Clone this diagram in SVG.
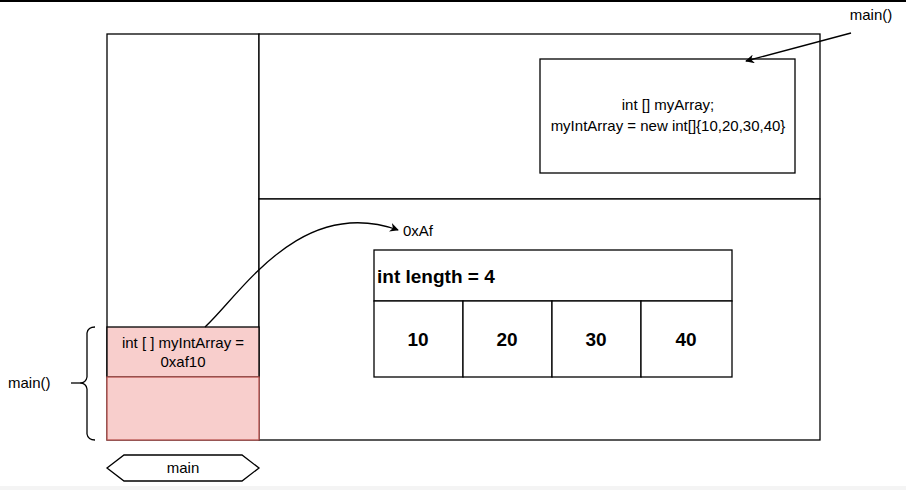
<svg xmlns="http://www.w3.org/2000/svg" width="906" height="490" viewBox="0 0 906 490">
<defs>
<style>
.box{fill:#fff;stroke:#000;stroke-width:1.3}
.t{font-family:"Liberation Sans",Arial,sans-serif;font-size:15px;fill:#000}
.b{font-family:"Liberation Sans",Arial,sans-serif;font-size:19px;font-weight:bold;fill:#000}
.line{fill:none;stroke:#000;stroke-width:1.3}
</style>
<marker id="ah" viewBox="0 0 10 10" refX="9" refY="5" markerWidth="9" markerHeight="9" orient="auto" markerUnits="userSpaceOnUse">
<path d="M0,0 L10,5 L0,10 L3,5 Z" fill="#000"/>
</marker>
</defs>
<rect x="0" y="0" width="906" height="490" fill="#fff"/>
<rect x="0" y="0" width="906" height="2" fill="#000"/>
<rect x="0" y="486" width="906" height="4" fill="#f4f4f4"/>
<g id="stack"><rect class="box" x="107" y="34" width="152" height="406"/></g>
<g id="heap-top"><rect class="box" x="259" y="34" width="561" height="165"/></g>
<g id="heap"><rect class="box" x="259" y="199" width="561" height="241"/></g>
<g id="frame-var">
<rect x="107" y="327" width="152" height="50" fill="#f8cecc" stroke="#000" stroke-width="1.3"/>
<text class="t" x="183" y="348" text-anchor="middle">int [ ] myIntArray =</text>
<text class="t" x="183" y="367" text-anchor="middle">0xaf10</text>
</g>
<g id="frame-rest"><rect x="107" y="377" width="152" height="63" fill="#f8cecc" stroke="#b85450" stroke-width="1.3"/></g>
<g id="brace">
<path class="line" d="M95,327 Q88,327 87,333 L87,377 Q86,383 80,383 Q86,383 87,389 L87,434 Q88,440 95,440"/>
<line class="line" x1="71" y1="383" x2="80" y2="383"/>
<text class="t" x="8" y="388">main()</text>
</g>
<g id="main-thread">
<polygon class="box" points="107,468 124,455 242,455 259,468 242,481 124,481"/>
<text class="t" x="183" y="473" text-anchor="middle">main</text>
</g>
<g id="code">
<rect class="box" x="540" y="59" width="255" height="114"/>
<text class="t" x="668" y="110" text-anchor="middle">int [] myArray;</text>
<text class="t" x="668" y="131" text-anchor="middle">myIntArray = new int[]{10,20,30,40}</text>
</g>
<g id="main-label"><text class="t" x="871" y="20" text-anchor="middle">main()</text></g>
<g id="array">
<rect class="box" x="374" y="250" width="358" height="51"/>
<text class="b" x="377" y="283">int length = 4</text>
<rect class="box" x="374" y="301" width="89" height="76"/>
<rect class="box" x="463" y="301" width="89" height="76"/>
<rect class="box" x="552" y="301" width="89" height="76"/>
<rect class="box" x="641" y="301" width="91" height="76"/>
<text class="b" x="418" y="346" text-anchor="middle">10</text>
<text class="b" x="507" y="346" text-anchor="middle">20</text>
<text class="b" x="596" y="346" text-anchor="middle">30</text>
<text class="b" x="686" y="346" text-anchor="middle">40</text>
</g>
<g id="addr"><text class="t" x="403" y="236">0xAf</text></g>
<g id="connectors">
<path class="line" d="M205,327 C240,295 300,195 398,230" marker-end="url(#ah)"/>
<line class="line" x1="851" y1="33" x2="746" y2="61" marker-end="url(#ah)"/>
</g>
</svg>
